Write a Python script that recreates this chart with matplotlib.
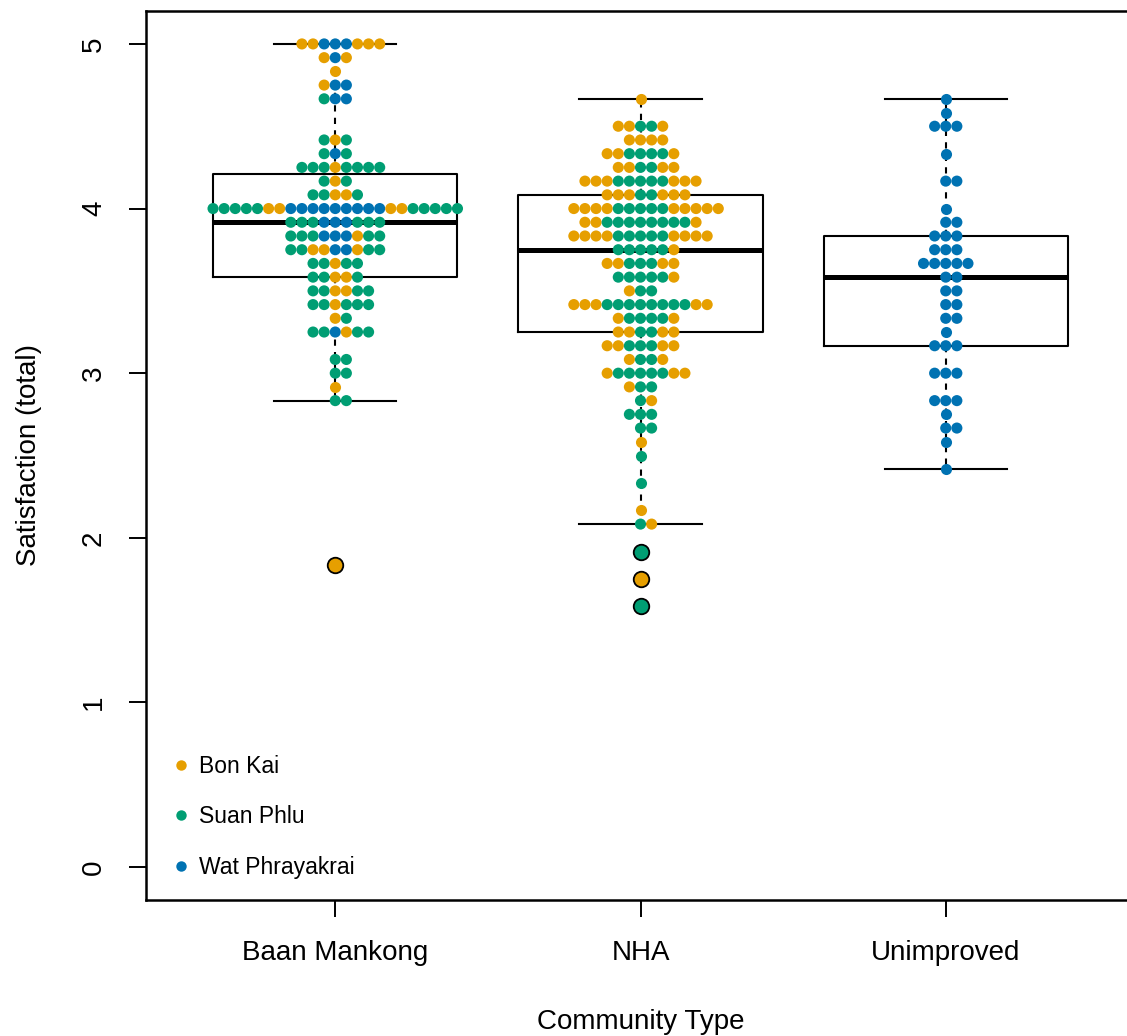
import numpy as np
import matplotlib.pyplot as plt
from matplotlib.lines import Line2D

plt.rcParams['font.family'] = ['Liberation Sans', 'DejaVu Sans']

groups = ['Baan Mankong', 'NHA', 'Unimproved']
community_names = {'K': 'Bon Kai', 'S': 'Suan Phlu', 'W': 'Wat Phrayakrai'}
community_colours = {'K': '#E69F00', 'S': '#009E73', 'W': '#0072B2'}
y_ticks = [0, 1, 2, 3, 4, 5]

# satisfaction scores in twelfths, one swarm row per score,
# letters give the community of each point left to right
bm_scores = [60, 59, 58, 57, 56, 53, 52, 51, 50, 49, 48, 47, 46, 45, 44, 43,
             42, 41, 40, 39, 37, 36, 35, 34, 22]
bm_rows = ['KKWWWKKK', 'KWK', 'K', 'KWW', 'SWW', 'SKS', 'SWS', 'SSSKSSSS',
           'SKS', 'SSKKS', 'SSSSSKKWWWWWWWWWKKSSSSS', 'SSSWWWSSS',
           'SSSWWWKSS', 'SSKKWWKSS', 'SSKSS', 'SSKKS', 'SSKKSS', 'SSKSSS',
           'KS', 'SSWKSS', 'SS', 'SS', 'K', 'SS', 'K']

nha_scores = [56, 54, 53, 52, 51, 50, 49, 48, 47, 46, 45, 44, 43, 42, 41, 40,
              39, 38, 37, 36, 35, 34, 33, 32, 31, 30, 28, 26, 25, 23, 21, 19]
nha_rows = ['K', 'KKSSK', 'KKKK', 'KKSSSSK', 'KKSSKK', 'KKKSSSSSKKK',
            'KKKSSKKK', 'KKKKSSSSSKKKKK', 'KKSSSSSSSSK', 'KKKKSSSSSKKKK',
            'SSSSSK', 'KKSSSKK', 'SSSSSK', 'KSS', 'KKKSSSSSSSSKK', 'KSSSSK',
            'KKSSKK', 'KKSSSKK', 'KSSK', 'KSSSSSKK', 'KSS', 'SK', 'SSS', 'SS',
            'K', 'S', 'S', 'K', 'SK', 'S', 'K', 'S']

un_scores = [56, 55, 54, 52, 50, 48, 47, 46, 45, 44, 43, 42, 41, 40, 39, 38,
             36, 34, 33, 32, 31, 29]
un_rows = ['W', 'W', 'WWW', 'W', 'WW', 'W', 'WW', 'WWW', 'WWW', 'WWWWW', 'WW',
           'WW', 'WW', 'WW', 'W', 'WWW', 'WWW', 'WWW', 'W', 'WW', 'W', 'W']

all_scores = [bm_scores, nha_scores, un_scores]
all_rows = [bm_rows, nha_rows, un_rows]

DOT_STEP = 0.0364


def tukey_stats(vals):
    # R boxplot style: hinges + 1.5 IQR whiskers
    v = np.sort(np.asarray(vals))
    n = len(v)
    half = (n + 1) // 2
    q1 = np.median(v[:half])
    q3 = np.median(v[n - half:])
    iqr = q3 - q1
    lo = v[v >= q1 - 1.5 * iqr].min()
    hi = v[v <= q3 + 1.5 * iqr].max()
    return {'med': np.median(v), 'q1': q1, 'q3': q3,
            'whislo': lo, 'whishi': hi, 'fliers': []}


fig = plt.figure(figsize=(11.27, 10.36), dpi=100)
ax = fig.add_axes([146 / 1127, 136 / 1036, 989 / 1127, 889 / 1036])

stats = []
for scores, rows in zip(all_scores, all_rows):
    vals = []
    for s, r in zip(scores, rows):
        vals += [s / 12] * len(r)
    stats.append(tukey_stats(vals))

ax.bxp(stats, positions=[1, 2, 3], widths=0.8, capwidths=0.4,
       showfliers=False, zorder=2,
       boxprops=dict(color='black', linewidth=1.5),
       medianprops=dict(color='black', linewidth=3.6, solid_capstyle='butt'),
       whiskerprops=dict(color='black', linewidth=1.5, linestyle=(0, (3, 3))),
       capprops=dict(color='black', linewidth=1.5))

for i, (scores, rows) in enumerate(zip(all_scores, all_rows)):
    st = stats[i]
    for s, r in zip(scores, rows):
        n = len(r)
        xs = i + 1 + (np.arange(n) - (n - 1) // 2) * DOT_STEP
        ys = np.full(n, s / 12)
        cols = [community_colours[c] for c in r]
        if s / 12 < st['whislo'] or s / 12 > st['whishi']:
            ax.scatter(xs, ys, s=125, c=cols, edgecolors='black',
                       linewidths=1.3, zorder=3)
        ax.scatter(xs, ys, s=64, c=cols, linewidths=0, zorder=4)

ax.set_xlim(0.38, 3.62)
ax.set_ylim(-0.2, 5.2)
ax.set_xticks([1, 2, 3])
ax.set_xticklabels(groups)
ax.set_yticks(y_ticks)
ax.set_yticklabels([str(t) for t in y_ticks], rotation=90, va='center')
ax.tick_params(axis='both', length=12, width=1.4, labelsize=20)
ax.tick_params(axis='x', pad=17)
ax.tick_params(axis='y', pad=16)
for sp in ax.spines.values():
    sp.set_linewidth(1.8)

ax.set_xlabel('Community Type', fontsize=20)
ax.set_ylabel('Satisfaction (total)', fontsize=20)
ax.xaxis.set_label_coords(0.5, -0.123)
ax.yaxis.set_label_coords(-0.105, 0.5)

handles = [Line2D([], [], marker='o', linestyle='', markersize=7.5,
                  markerfacecolor=community_colours[k], markeredgewidth=0,
                  label=community_names[k]) for k in ['K', 'S', 'W']]
ax.legend(handles=handles, loc='lower left', bbox_to_anchor=(0.028, 0.024),
          frameon=False, fontsize=16.5, handlelength=0.6, handletextpad=0.5,
          labelspacing=1.2, borderpad=0, borderaxespad=0)

fig.savefig('out.png', dpi=100)
